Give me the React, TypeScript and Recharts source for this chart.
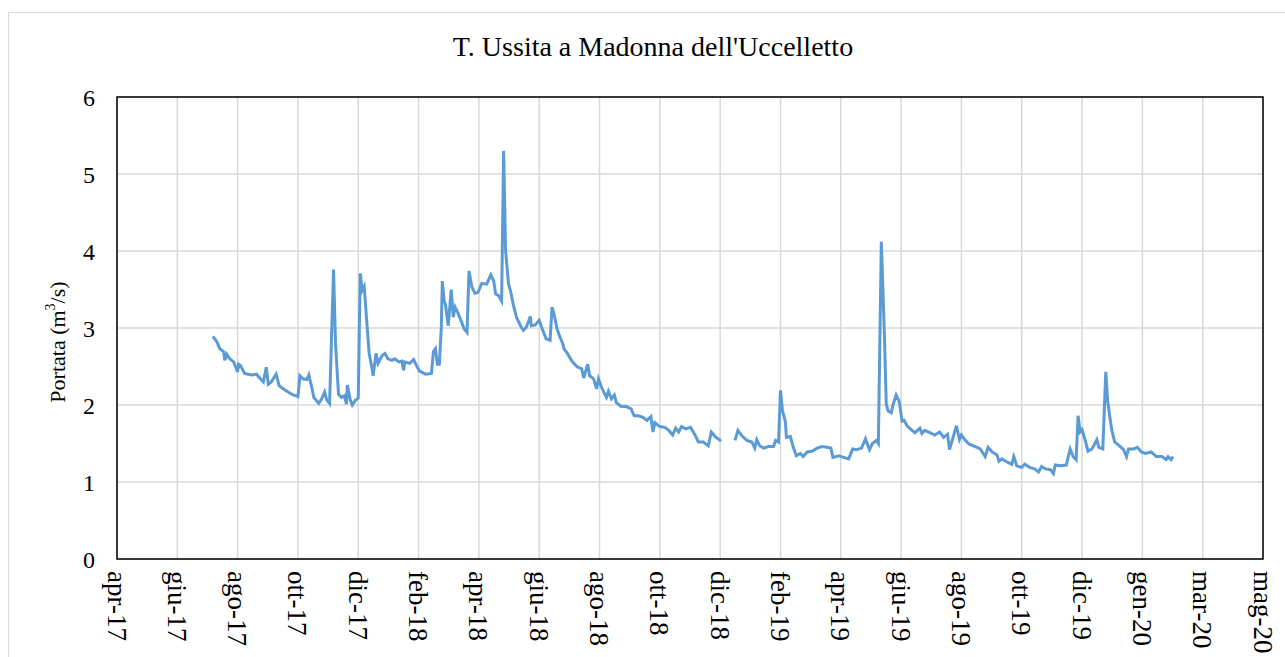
import { LineChart, Line, XAxis, YAxis, CartesianGrid, ReferenceArea } from "recharts"

// etichette dell'asse x (una ogni 61 giorni a partire da apr-17)
const etichetteMesi = [
  "apr-17", "giu-17", "ago-17", "ott-17", "dic-17", "feb-18", "apr-18", "giu-18", "ago-18", "ott-18",
  "dic-18", "feb-19", "apr-19", "giu-19", "ago-19", "ott-19", "dic-19", "gen-20", "mar-20", "mag-20",
]
const passoTick = 61
const ticksY = [0, 1, 2, 3, 4, 5, 6]

// giorni dall'inizio asse (apr-17)
const giorni = [
  97, 101, 104, 108, 109, 111, 114, 118, 122, 123,
  125, 129, 136, 141, 145, 148, 151, 153, 156, 161,
  164, 168, 173, 178, 183, 185, 188, 192, 194, 197,
  199, 204, 207, 210, 212, 215, 219, 221, 224, 227,
  230, 232, 233, 236, 238, 241, 244, 246, 248, 250,
  253, 255, 258, 259, 262, 264, 268, 271, 274, 278,
  281, 285, 288, 290, 291, 296, 300, 303, 306, 312,
  318, 320, 322, 324, 326, 328, 329, 331, 332, 335,
  338, 340, 342, 345, 349, 351, 354, 356, 359, 362,
  365, 369, 374, 378, 381, 383, 386, 389, 391, 393,
  396, 398, 401, 404, 408, 411, 414, 418, 419, 423,
  427, 430, 434, 438, 440, 442, 445, 448, 451, 452,
  455, 460, 465, 470, 472, 476, 478, 482, 485, 487,
  490, 495, 497, 500, 503, 505, 510, 515, 520, 523,
  527, 532, 536, 540, 542, 544, 549, 554, 558, 562,
  565, 568, 571, 575, 580, 585, 588, 593, 598, 601,
  605, 608, 611, 617, 625, 628, 632, 637, 642, 645,
  647, 650, 654, 659, 664, 666, 669, 671, 673, 676,
  677, 681, 684, 687, 691, 694, 698, 703, 708, 713,
  718, 722, 724, 730, 735, 740, 744, 748, 753, 757,
  761, 764, 768, 770, 773, 776, 778, 780, 783, 785,
  788, 791, 794, 796, 799, 804, 807, 812, 814, 817,
  822, 827, 832, 836, 840, 842, 846, 849, 852, 854,
  858, 862, 868, 873, 878, 881, 885, 890, 892, 895,
  900, 905, 907, 910, 915, 918, 923, 928, 932, 935,
  939, 944, 947, 949, 954, 960, 964, 967, 970, 972,
  974, 976, 979, 982, 986, 989, 991, 993, 997, 1000,
  1002, 1006, 1009, 1013, 1018, 1021, 1023, 1028, 1032, 1036,
  1040, 1046, 1051, 1057, 1061, 1063, 1066, 1068,
]

// portata (m3/s), null = dato mancante
const portata = [
  2.89, 2.82, 2.73, 2.69, 2.58, 2.66, 2.60, 2.56, 2.43, 2.53,
  2.51, 2.41, 2.39, 2.40, 2.34, 2.30, 2.49, 2.27, 2.30, 2.40,
  2.25, 2.21, 2.17, 2.13, 2.11, 2.38, 2.34, 2.33, 2.39, 2.23,
  2.10, 2.02, 2.08, 2.17, 2.07, 2.02, 3.76, 2.80, 2.14, 2.10,
  2.12, 2.01, 2.26, 2.06, 2.00, 2.06, 2.09, 3.71, 3.49, 3.54,
  3.01, 2.67, 2.47, 2.38, 2.67, 2.54, 2.64, 2.67, 2.60, 2.58,
  2.60, 2.56, 2.57, 2.45, 2.56, 2.54, 2.59, 2.51, 2.44, 2.40,
  2.41, 2.69, 2.73, 2.53, 2.53, 3.01, 3.61, 3.34, 3.32, 3.03,
  3.50, 3.14, 3.27, 3.19, 3.06, 2.99, 2.94, 3.74, 3.53, 3.45,
  3.46, 3.58, 3.57, 3.69, 3.61, 3.44, 3.42, 3.35, 5.30, 4.00,
  3.57, 3.48, 3.29, 3.14, 3.03, 2.97, 3.01, 3.15, 3.03, 3.04,
  3.10, 2.99, 2.86, 2.84, 3.27, 3.18, 2.99, 2.88, 2.79, 2.73,
  2.68, 2.57, 2.50, 2.47, 2.35, 2.53, 2.38, 2.34, 2.21, 2.34,
  2.23, 2.10, 2.18, 2.08, 2.13, 2.03, 1.98, 1.98, 1.95, 1.86,
  1.86, 1.84, 1.80, 1.85, 1.65, 1.77, 1.72, 1.71, 1.67, 1.61,
  1.70, 1.65, 1.72, 1.69, 1.71, 1.60, 1.52, 1.52, 1.47, 1.65,
  1.59, 1.56, 1.53, null, 1.54, 1.67, 1.60, 1.54, 1.52, 1.44,
  1.55, 1.47, 1.44, 1.46, 1.46, 1.54, 1.52, 2.19, 1.93, 1.78,
  1.58, 1.59, 1.45, 1.34, 1.37, 1.33, 1.39, 1.40, 1.44, 1.46,
  1.45, 1.44, 1.32, 1.34, 1.32, 1.30, 1.43, 1.42, 1.44, 1.56,
  1.42, 1.50, 1.54, 1.50, 4.12, 2.96, 2.01, 1.92, 1.90, 2.01,
  2.13, 2.05, 1.79, 1.80, 1.73, 1.67, 1.64, 1.70, 1.63, 1.67,
  1.64, 1.61, 1.65, 1.58, 1.62, 1.42, 1.60, 1.73, 1.55, 1.61,
  1.54, 1.49, 1.46, 1.43, 1.33, 1.45, 1.39, 1.35, 1.27, 1.30,
  1.26, 1.23, 1.33, 1.21, 1.19, 1.23, 1.19, 1.17, 1.13, 1.20,
  1.17, 1.16, 1.11, 1.22, 1.21, 1.22, 1.43, 1.33, 1.29, 1.86,
  1.65, 1.68, 1.55, 1.40, 1.43, 1.50, 1.55, 1.45, 1.43, 2.43,
  2.04, 1.68, 1.52, 1.48, 1.42, 1.33, 1.43, 1.43, 1.45, 1.39,
  1.37, 1.39, 1.33, 1.33, 1.29, 1.33, 1.29, 1.33,
]

const font = "'Liberation Serif', 'Times New Roman', serif"
const ticksX = etichetteMesi.map((_, i) => i * passoTick)
const fineAsse = ticksX[ticksX.length - 1]

const data = giorni.map((g, i) => ({ giorno: g, portata: portata[i] }))

function TickMese({ x, y, payload }: any) {
  const idx = Math.round(payload.value / passoTick)
  return (
    <g transform={`translate(${x},${y})`}>
      <text transform="rotate(90)" x={4} y={0} dy="0.35em" textAnchor="start" fontSize={27} fill="#000" fontFamily={font}>
        {etichetteMesi[idx]}
      </text>
    </g>
  )
}

function EtichettaY({ viewBox }: any) {
  const cx = viewBox.x + 60
  const cy = viewBox.y + viewBox.height / 2 + 14
  return (
    <text x={cx} y={cy} transform={`rotate(-90, ${cx}, ${cy})`} textAnchor="middle" dominantBaseline="middle" fontSize={22} fill="#000" fontFamily={font}>
      Portata (m<tspan dy={-8} fontSize={14}>3</tspan><tspan dy={8}>/s)</tspan>
    </text>
  )
}

export default function App() {
  return (
    <div style={{ position: "absolute", left: 0, top: 0, width: 1285, height: 657, background: "#fff", overflow: "hidden" }}>
      <div style={{ position: "absolute", left: 8, top: 12, width: 1300, height: 700, border: "1px solid #d9d9d9" }} />
      <div style={{ position: "absolute", left: 8, top: 31, width: 1290, textAlign: "center", fontFamily: font, fontSize: 28, color: "#000" }}>
        T. Ussita a Madonna dell'Uccelletto
      </div>
      <div style={{ position: "absolute", left: 0, top: 0 }}>
        <LineChart width={1285} height={657} data={data} margin={{ top: 97, right: 22, left: 0, bottom: 0 }}>
          <CartesianGrid stroke="#d9d9d9" strokeWidth={1.5} />
          <XAxis
            dataKey="giorno"
            type="number"
            domain={[0, fineAsse]}
            ticks={ticksX}
            height={98}
            tickLine={false}
            axisLine={false}
            interval={0}
            tick={<TickMese />}
          />
          <YAxis
            domain={[0, 6]}
            ticks={ticksY}
            width={117}
            tickLine={false}
            axisLine={false}
            tickSize={0}
            tickMargin={22}
            tick={{ fontSize: 24, fill: "#000", fontFamily: font }}
            label={<EtichettaY />}
          />
          <ReferenceArea x1={0} x2={fineAsse} y1={0} y2={6} fill="none" stroke="#000" strokeWidth={1.5} />
          <Line
            type="linear"
            dataKey="portata"
            stroke="#5B9BD5"
            strokeWidth={3}
            dot={false}
            isAnimationActive={false}
          />
        </LineChart>
      </div>
    </div>
  )
}
